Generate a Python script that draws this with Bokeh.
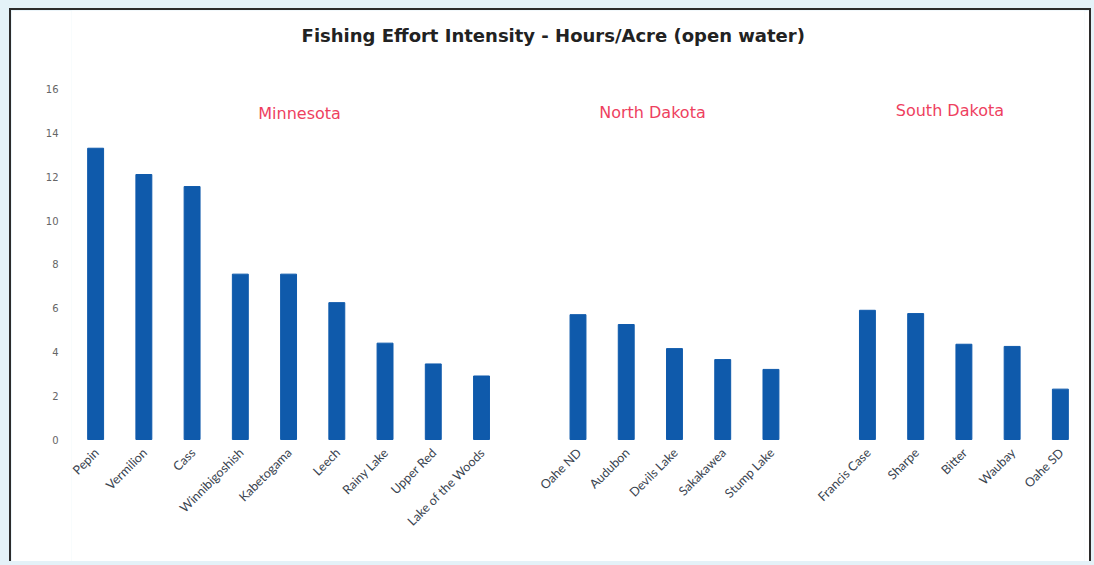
import math
from bokeh.plotting import figure
from bokeh.models import FactorRange, Range1d, ColumnDataSource, FixedTicker
from bokeh.core.properties import value
from bokeh.embed import file_html
from bokeh.resources import INLINE

# ---- data ----
states = ["Minnesota", "North Dakota", "South Dakota"]
lakes_mn = ["Pepin", "Vermilion", "Cass", "Winnibigoshish", "Kabetogama",
            "Leech", "Rainy Lake", "Upper Red", "Lake of the Woods"]
hours_mn = [13.3, 12.1, 11.55, 7.55, 7.55, 6.25, 4.4, 3.45, 2.9]
lakes_nd = ["Oahe ND", "Audubon", "Devils Lake", "Sakakawea", "Stump Lake"]
hours_nd = [5.7, 5.25, 4.15, 3.65, 3.2]
lakes_sd = ["Francis Case", "Sharpe", "Bitter", "Waubay", "Oahe SD"]
hours_sd = [5.9, 5.75, 4.35, 4.25, 2.3]
y_ticks = [0, 2, 4, 6, 8, 10, 12, 14, 16]
title_text = "Fishing Effort Intensity - Hours/Acre (open water)"

factors = ([(states[0], l) for l in lakes_mn] +
           [(states[1], l) for l in lakes_nd] +
           [(states[2], l) for l in lakes_sd])
lake_names = lakes_mn + lakes_nd + lakes_sd
hours = hours_mn + hours_nd + hours_sd
src = ColumnDataSource(dict(x=factors, top=hours, name=lake_names,
                            base=[0] * len(hours)))

BAR = "#0F5AAB"
LABEL_RED = "#EE3F60"

p = figure(width=1082, height=553, output_backend="svg", toolbar_location=None,
           x_range=FactorRange(*factors, group_padding=1.0, range_padding=0),
           y_range=Range1d(-5.662, 19.589),
           min_border_left=60, min_border_right=9, min_border_top=0,
           min_border_bottom=0)
p.styles = {"margin-left": "9px", "margin-top": "8px",
            "border-top": "2px solid #2b2b2b", "border-left": "2px solid #2b2b2b",
            "border-right": "2px solid #2b2b2b"}

p.vbar(x="x", top="top", width=0.33, source=src, color=BAR)

# lake labels under the bars
p.text(x="x", y="base", text="name", source=src, angle=math.pi / 4,
       x_offset=1, y_offset=11, text_align="right", text_baseline="middle",
       text_font=value("Lato"), text_font_size="12.5px", text_color="#3a4450")

# state labels
lab = ColumnDataSource(dict(
    x=[(states[0], "Kabetogama"), (states[1], "Devils Lake"), (states[2], "Bitter")],
    y=[14.9, 14.95, 15.0],
    text=states,
    dx=[11, -22, -14]))
p.text(x="x", y="y", text="text", x_offset="dx", source=lab,
       text_align="center", text_baseline="middle",
       text_font=value("DejaVu Sans"), text_font_size="16px", text_color=LABEL_RED)

# chart title (drawn as text in the frame's upper area)
ttl = ColumnDataSource(dict(x=[(states[0], lakes_mn[0])], y=[18.45], text=[title_text]))
p.text(x="x", y="y", text="text", source=ttl, x_offset=206,
       text_align="left", text_baseline="middle",
       text_font=value("DejaVu Sans"), text_font_size="18px",
       text_font_style="bold", text_color="#222222")

p.xgrid.visible = False
p.ygrid.visible = False
p.outline_line_color = None
p.xaxis.visible = False

ya = p.yaxis[0]
ya.ticker = FixedTicker(ticks=y_ticks)
ya.axis_line_color = None
ya.major_tick_line_color = None
ya.minor_tick_line_color = None
ya.major_label_text_font = "DejaVu Sans"
ya.major_label_text_font_size = "10px"
ya.major_label_text_color = "#666666"
ya.major_label_standoff = 7

html = file_html(p, INLINE)
html = html.replace("</head>", "<style>html, body { background: #e4f2f8; }</style></head>", 1)
open("out.html", "w").write(html)
